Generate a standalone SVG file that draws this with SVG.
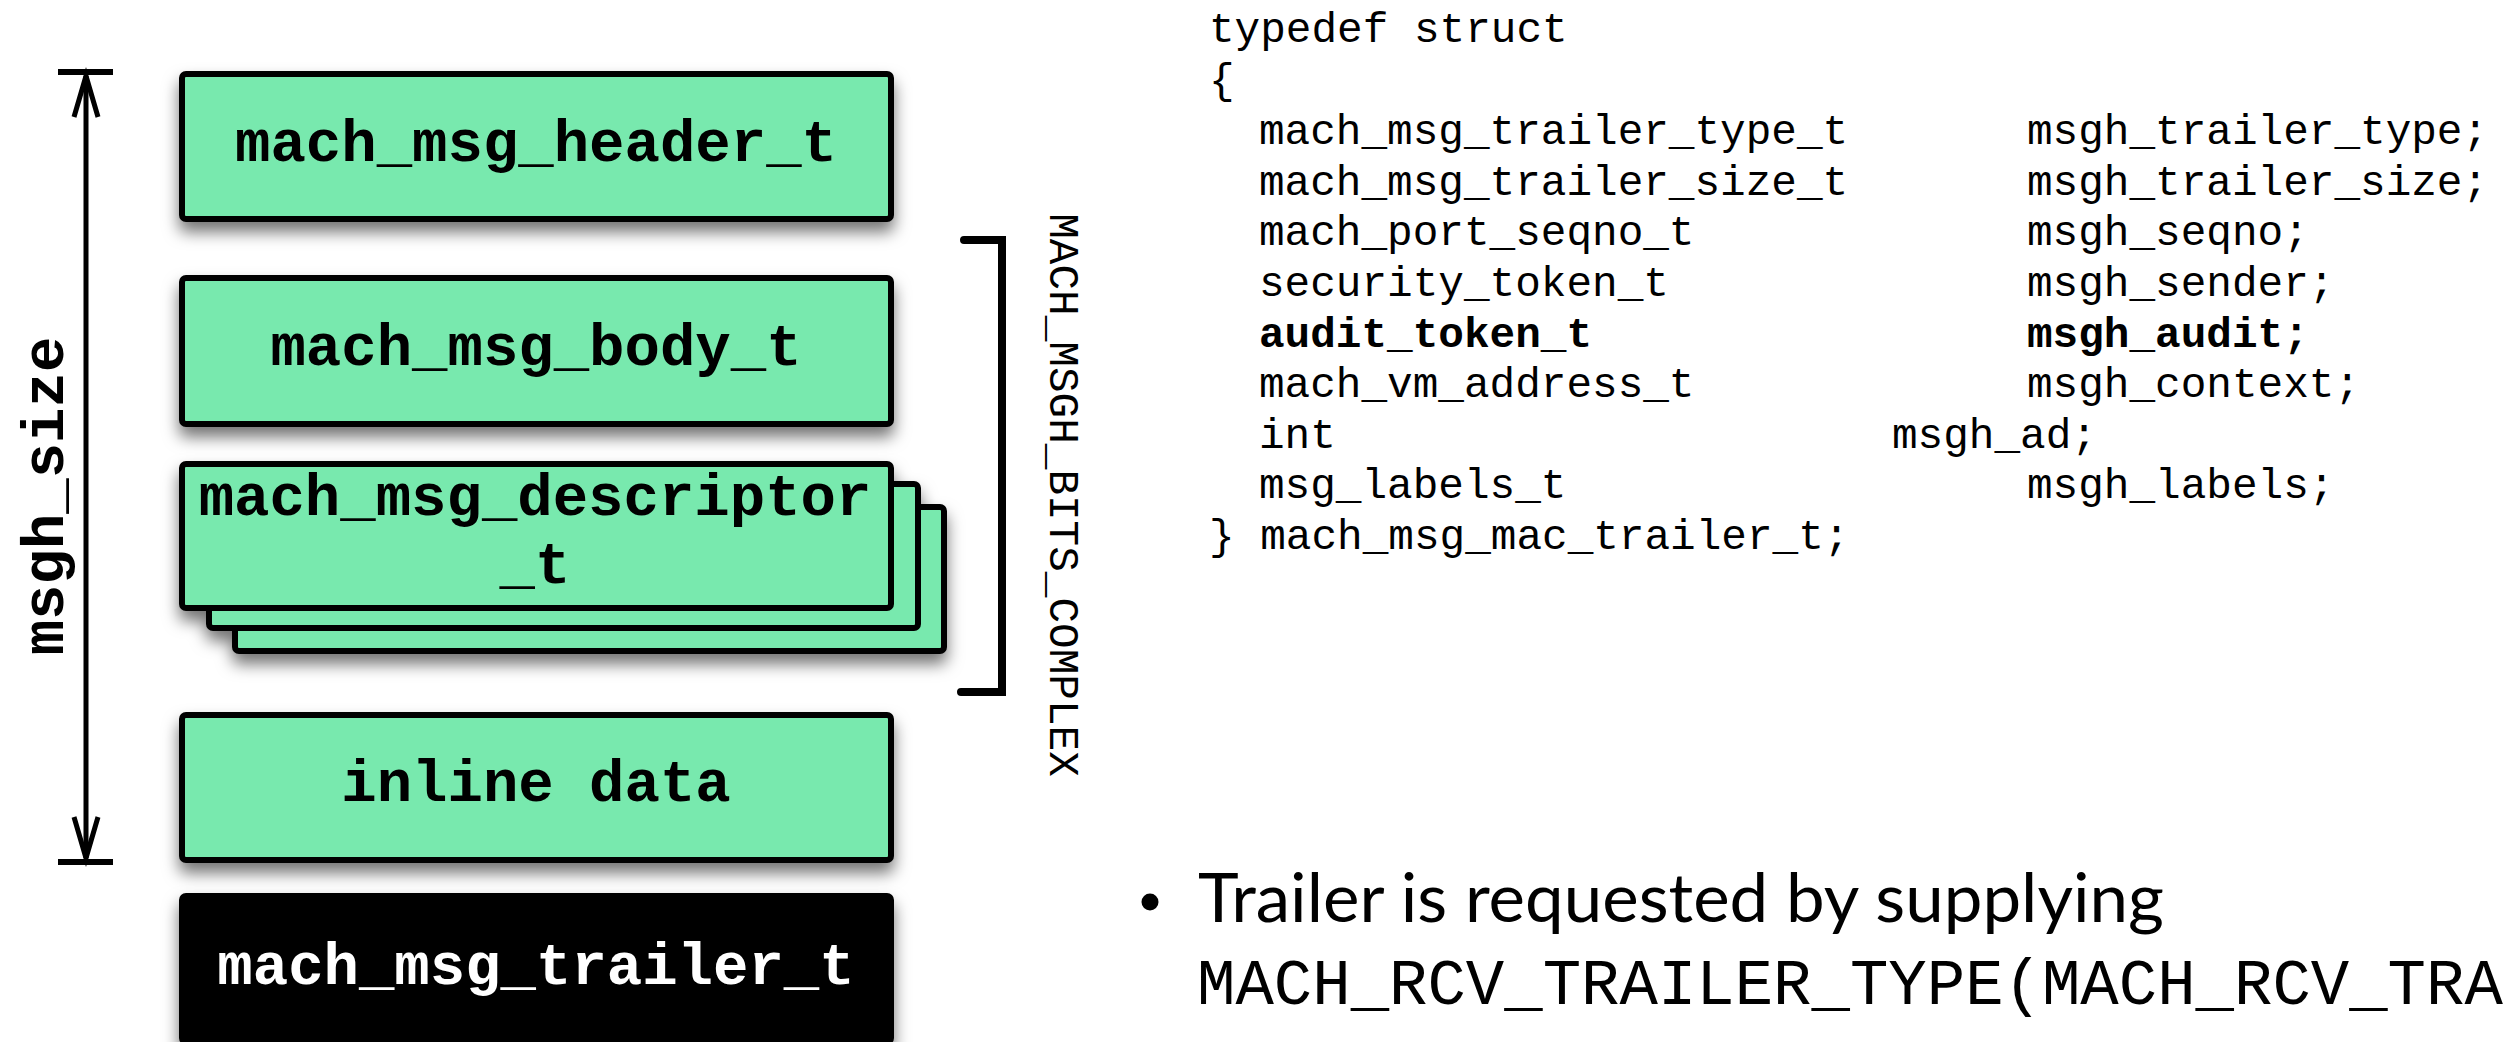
<svg xmlns="http://www.w3.org/2000/svg" width="2509" height="1042" viewBox="0 0 2509 1042">
  <defs>
    <filter id="shadow" x="-10%" y="-20%" width="120%" height="160%">
      <feDropShadow dx="0" dy="10" stdDeviation="8" flood-color="#000" flood-opacity="0.55"/>
    </filter>
  </defs>
  <style>
    .box { fill: #78e9ae; stroke: #000; stroke-width: 6; }
    .dark { fill: #000; stroke: #000; stroke-width: 6; }
    .lbl { font-family: "Liberation Mono", "Courier New", monospace; font-weight: bold; font-size: 59px; text-anchor: middle; fill: #000; }
    .lbl-w { fill: #fff; }
    .code { font-family: "Liberation Mono", "Courier New", monospace; font-size: 42.7px; fill: #000; white-space: pre; }
    .b { font-weight: bold; }
    .dim { stroke: #000; fill: none; }
    .bullet { font-family: Lato, "Liberation Sans", sans-serif; font-size: 67px; fill: #000; }
    .mono-big { font-family: "Liberation Mono", "Courier New", monospace; font-size: 64px; fill: #000; }
  </style>

  <rect width="2509" height="1042" fill="#fff"/>

  <!-- message layout stack -->
  <g id="header" filter="url(#shadow)">
    <rect class="box" x="182" y="74" width="709" height="145" rx="4"/>
    <text class="lbl" x="536" y="161">mach_msg_header_t</text>
  </g>

  <g id="body" filter="url(#shadow)">
    <rect class="box" x="182" y="278" width="709" height="146" rx="4"/>
    <text class="lbl" x="536" y="365">mach_msg_body_t</text>
  </g>

  <g id="descriptors" filter="url(#shadow)">
    <rect class="box" x="235" y="507" width="709" height="144" rx="4"/>
    <rect class="box" x="209" y="484" width="709" height="144" rx="4"/>
    <rect class="box" x="182" y="464" width="709" height="144" rx="4"/>
    <text class="lbl" x="535" y="515">mach_msg_descriptor</text>
    <text class="lbl" x="535" y="583">_t</text>
  </g>

  <g id="inline-data" filter="url(#shadow)">
    <rect class="box" x="182" y="715" width="709" height="145" rx="4"/>
    <text class="lbl" x="536" y="801">inline data</text>
  </g>

  <g id="trailer" filter="url(#shadow)">
    <rect class="dark" x="182" y="896" width="709" height="146" rx="4"/>
    <text class="lbl lbl-w" x="536" y="984">mach_msg_trailer_t</text>
  </g>

  <!-- size dimension and complex-bit bracket -->
  <g id="connectors">
    <line class="dim" x1="86" y1="76" x2="86" y2="858" stroke-width="5"/>
    <line class="dim" x1="58" y1="72" x2="113" y2="72" stroke-width="6"/>
    <line class="dim" x1="58" y1="862" x2="113" y2="862" stroke-width="6"/>
    <polyline class="dim" points="74,117 86,76 98,117" stroke-width="5"/>
    <polyline class="dim" points="74,817 86,858 98,817" stroke-width="5"/>
    <path class="dim" d="M964 240 H1002 V692 H961" stroke-width="8" stroke-linecap="round"/>
  </g>

  <g id="msgh-size-label">
    <text class="lbl" font-size="57" transform="translate(63,496) rotate(-90)" x="0" y="0">msgh_size</text>
  </g>

  <g id="complex-label">
    <text class="code" font-size="43" transform="translate(1050,495) rotate(90)" x="0" y="0" text-anchor="middle">MACH_MSGH_BITS_COMPLEX</text>
  </g>

  <!-- trailer struct definition -->
  <g id="struct-code">
    <text class="code" x="1209" y="42">typedef struct</text>
    <text class="code" x="1209" y="93">{</text>
    <text class="code" x="1259" y="144">mach_msg_trailer_type_t</text>
    <text class="code" x="2027" y="144">msgh_trailer_type;</text>
    <text class="code" x="1259" y="195">mach_msg_trailer_size_t</text>
    <text class="code" x="2027" y="195">msgh_trailer_size;</text>
    <text class="code" x="1259" y="245">mach_port_seqno_t</text>
    <text class="code" x="2027" y="245">msgh_seqno;</text>
    <text class="code" x="1259" y="296">security_token_t</text>
    <text class="code" x="2027" y="296">msgh_sender;</text>
    <text class="code b" x="1259" y="347">audit_token_t</text>
    <text class="code b" x="2027" y="347">msgh_audit;</text>
    <text class="code" x="1259" y="397">mach_vm_address_t</text>
    <text class="code" x="2027" y="397">msgh_context;</text>
    <text class="code" x="1259" y="448">int</text>
    <text class="code" x="1892" y="448">msgh_ad;</text>
    <text class="code" x="1259" y="498">msg_labels_t</text>
    <text class="code" x="2027" y="498">msgh_labels;</text>
    <text class="code" x="1209" y="549">} mach_msg_mac_trailer_t;</text>
  </g>

  <!-- bullet note -->
  <g id="note">
    <circle cx="1150" cy="902" r="8.5" fill="#000"/>
    <text class="bullet" x="1198" y="922" textLength="966" lengthAdjust="spacingAndGlyphs">Trailer is requested by supplying</text>
    <text class="mono-big" x="1197" y="1004">MACH_RCV_TRAILER_TYPE(MACH_RCV_TRA</text>
  </g>
</svg>
